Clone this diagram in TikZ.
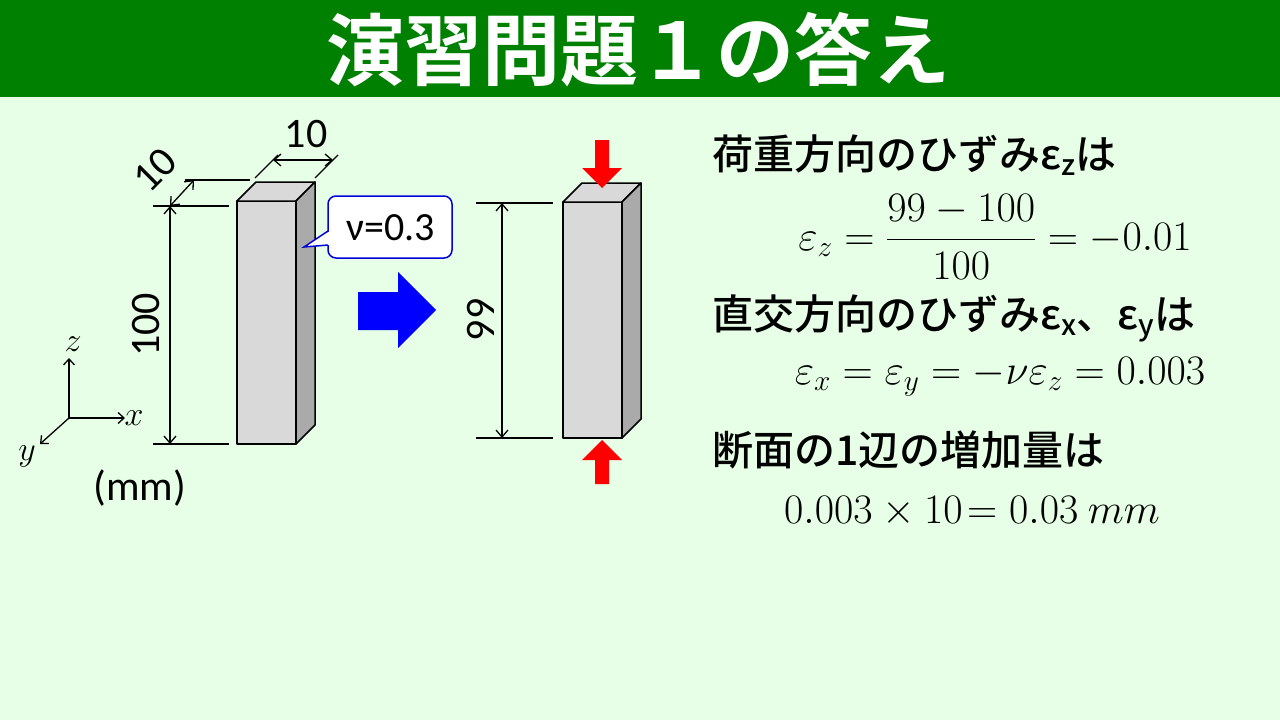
\documentclass[tikz,border=0pt]{standalone}
\usepackage{fix-cm}
\usepackage{fontspec}
\usepackage{amsmath}
\newfontfamily\jp{Noto Sans CJK JP Medium}
\newfontfamily\jpb{Noto Sans CJK JP Bold}
\setmainfont{Carlito}
\usetikzlibrary{arrows.meta}
\begin{document}
\begin{tikzpicture}[x=1pt,y=-1pt,
  dim/.style={draw=black,line width=1.3pt},
  dimarr/.style={draw=black,line width=1.3pt,{Straight Barb[length=7pt,width=12pt]}-{Straight Barb[length=7pt,width=12pt]}},
  face/.style={draw=black,line width=1.5pt,line join=round},
  lab/.style={font=\fontsize{42}{46}\selectfont,inner sep=0},
  jt/.style={font=\jp\fontsize{41}{46}\selectfont,anchor=west,inner sep=0},
  eq/.style={font=\fontsize{42}{48}\selectfont,inner sep=0}]
\useasboundingbox (0,0) rectangle (1280,720);
\fill[fill={rgb,255:red,230;green,255;blue,230}] (0,0) rectangle (1280,720);
\fill[fill={rgb,255:red,0;green,128;blue,0}] (0,0) rectangle (1280,97);
\node[font=\jpb\fontsize{78}{84}\selectfont,text=white] (title) at (638,50) {演習問題１の答え};
% left prism
\filldraw[face,fill={rgb,255:red,217;green,217;blue,217}] (237,201) rectangle (296,444);
\filldraw[face,fill={rgb,255:red,217;green,217;blue,217}] (237,201) -- (256,182) -- (315,182) -- (296,201) -- cycle;
\filldraw[face,fill={rgb,255:red,170;green,170;blue,170}] (296,201) -- (315,182) -- (315,425) -- (296,444) -- cycle;
\draw[dim] (153,206) -- (229,206);
\draw[dim] (153,444) -- (229,444);
\draw[dimarr] (170,206) -- (170,444);
\node[lab,rotate=90] (l100) at (146,325) {100};
\draw[dim] (185,180) -- (250,180);
\draw[dimarr] (170,206) -- (194,180);
\node[lab,rotate=45] (l10a) at (155,170) {10};
\draw[dim] (255,178) -- (278,155);
\draw[dim] (315,178) -- (338,155);
\draw[dimarr] (273,160) -- (333,160);
\node[lab] (l10b) at (306,134) {10};
% axes
\coordinate (o) at (69,418);
\draw[line width=1.3pt,-{Straight Barb[length=6pt,width=11pt]}] (o) -- (69,358);
\draw[line width=1.3pt,-{Straight Barb[length=6pt,width=11pt]}] (o) -- (125,418);
\draw[line width=1.3pt,-{Straight Barb[length=6pt,width=11pt]}] (o) -- (40,444);
\node[font=\fontsize{34}{36}\selectfont] (az) at (73,344) {$z$};
\node[font=\fontsize{34}{36}\selectfont] (ax) at (134,418) {$x$};
\node[font=\fontsize{34}{36}\selectfont] (ay) at (27,456) {$y$};
\node[lab] (mm) at (140,488) {(mm)};
% callout
\filldraw[draw={rgb,255:red,0;green,0;blue,220},fill=white,line width=1.5pt,rounded corners=8pt]
  (328,196) rectangle (452,258);
\fill[white] (330,231) -- (304,247) -- (330,245) -- cycle;
\draw[draw={rgb,255:red,0;green,0;blue,220},line width=1.5pt] (328,231) -- (304,247) -- (328,245);
\node[font=\fontsize{40}{44}\selectfont] (nu) at (391,228) {ν=0.3};
% blue arrow
\fill[blue] (358,292) -- (398,292) -- (398,272) -- (436,310) -- (398,348) -- (398,330) -- (358,330) -- cycle;
% right prism
\filldraw[face,fill={rgb,255:red,217;green,217;blue,217}] (563,202) rectangle (622,438);
\filldraw[face,fill={rgb,255:red,217;green,217;blue,217}] (563,202) -- (582,183) -- (641,183) -- (622,202) -- cycle;
\filldraw[face,fill={rgb,255:red,170;green,170;blue,170}] (622,202) -- (641,183) -- (641,419) -- (622,438) -- cycle;
\draw[dim] (476,203) -- (553,203);
\draw[dim] (476,438) -- (553,438);
\draw[dimarr] (502,203) -- (502,438);
\node[lab,rotate=90] (l99) at (481,320) {99};
\fill[red] (595,140) -- (609,140) -- (609,168) -- (622,168) -- (602,188) -- (582,168) -- (595,168) -- cycle;
\fill[red] (595,484) -- (609,484) -- (609,460) -- (622,460) -- (602,440) -- (582,460) -- (595,460) -- cycle;
% texts
\node[jt] (t1) at (712,155) {荷重方向のひずみε\textsubscript{z}は};
\node[eq] (e1) at (995,237) {$\varepsilon_z=\dfrac{99-100}{100}=-0.01$};
\node[jt] (t2) at (712,318) {直交方向のひずみε\textsubscript{x}、ε\textsubscript{y}は};
\node[eq] (e2) at (1000,377) {$\varepsilon_x=\varepsilon_y=-\nu\varepsilon_z=0.003$};
\node[jt] (t3) at (712,450) {断面の1辺の増加量は};
\node[eq] (e3) at (972,512) {$0.003\times10\!=0.03\ mm$};
\end{tikzpicture}
\end{document}
